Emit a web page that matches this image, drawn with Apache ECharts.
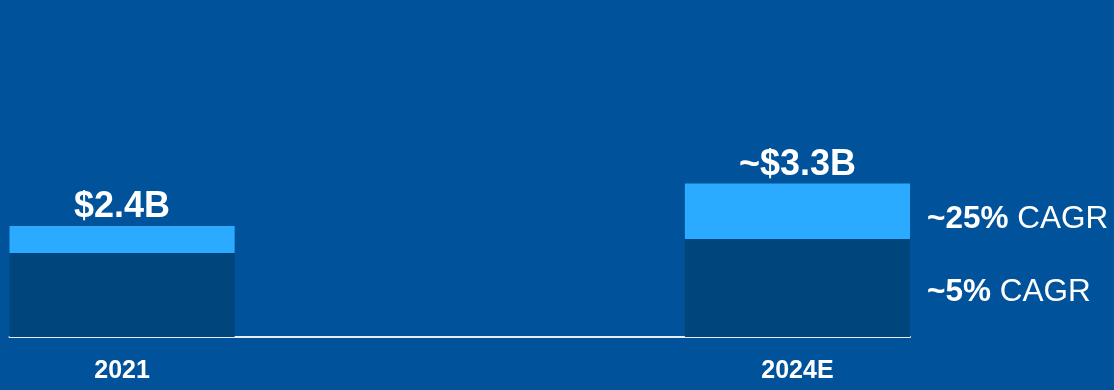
<!DOCTYPE html>
<html>
<head>
<meta charset="utf-8">
<style>
  html, body { margin: 0; padding: 0; background: #00539A; }
  #chart { width: 1114px; height: 390px; }
</style>
<script src="https://cdn.jsdelivr.net/npm/echarts@6/dist/echarts.min.js"></script>
</head>
<body>
<div id="chart"></div>
<script>
// Categories (two empty slots are spacing between the two years)
var categories = ['2021', '', '', '2024E'];
// Base segment ($B), ~5% CAGR
var baseValues = [1.82, '-', '-', 2.12];
// Growth segment ($B), ~25% CAGR
var growthValues = [0.58, '-', '-', 1.2];
// Total labels
var totalLabels = ['$2.4B', '', '', '~$3.3B'];
// CAGR labels
var baseCagr = ['', '', '', '~5%'];
var growthCagr = ['', '', '', '~25%'];

var font = 'Liberation Sans, Arial, sans-serif';

function cagrLabel(arr, dy) {
  return {
    show: true,
    position: 'right',
    distance: 17,
    offset: [0, dy],
    formatter: function (p) {
      var t = arr[p.dataIndex];
      return t ? '{b|' + t + '}{n| CAGR}' : '';
    },
    rich: {
      b: { fontFamily: font, fontSize: 31.5, fontWeight: 'bold', color: '#fff' },
      n: { fontFamily: font, fontSize: 31.5, color: '#fff' }
    }
  };
}

var chart = echarts.init(document.getElementById('chart'), null, { renderer: 'canvas' });
chart.setOption({
  backgroundColor: '#00539A',
  animation: false,
  grid: { left: 9.5, width: 900.5, top: 106, bottom: 53, containLabel: false },
  xAxis: {
    type: 'category',
    data: categories,
    axisTick: { show: false },
    axisLine: { show: true, lineStyle: { color: '#E6EDF5', width: 2 } },
    axisLabel: {
      interval: 0,
      margin: 22,
      color: '#fff',
      fontFamily: font,
      fontSize: 25,
      fontWeight: 'bold'
    }
  },
  yAxis: {
    type: 'value',
    min: 0,
    max: 5,
    show: false,
    splitLine: { show: false }
  },
  series: [
    {
      type: 'bar',
      stack: 'total',
      barWidth: '100%',
      data: baseValues,
      itemStyle: { color: '#00457C' },
      label: cagrLabel(baseCagr, 4)
    },
    {
      type: 'bar',
      stack: 'total',
      barWidth: '100%',
      data: growthValues,
      itemStyle: { color: '#2AABFF' },
      label: cagrLabel(growthCagr, 7.5)
    },
    {
      type: 'bar',
      stack: 'total',
      barWidth: '100%',
      data: [0, '-', '-', 0],
      itemStyle: { color: 'transparent' },
      label: {
        show: true,
        position: 'top',
        distance: 1,
        color: '#fff',
        fontFamily: font,
        fontSize: 36,
        fontWeight: 'bold',
        formatter: function (p) { return totalLabels[p.dataIndex]; }
      }
    }
  ]
});
</script>
</body>
</html>
